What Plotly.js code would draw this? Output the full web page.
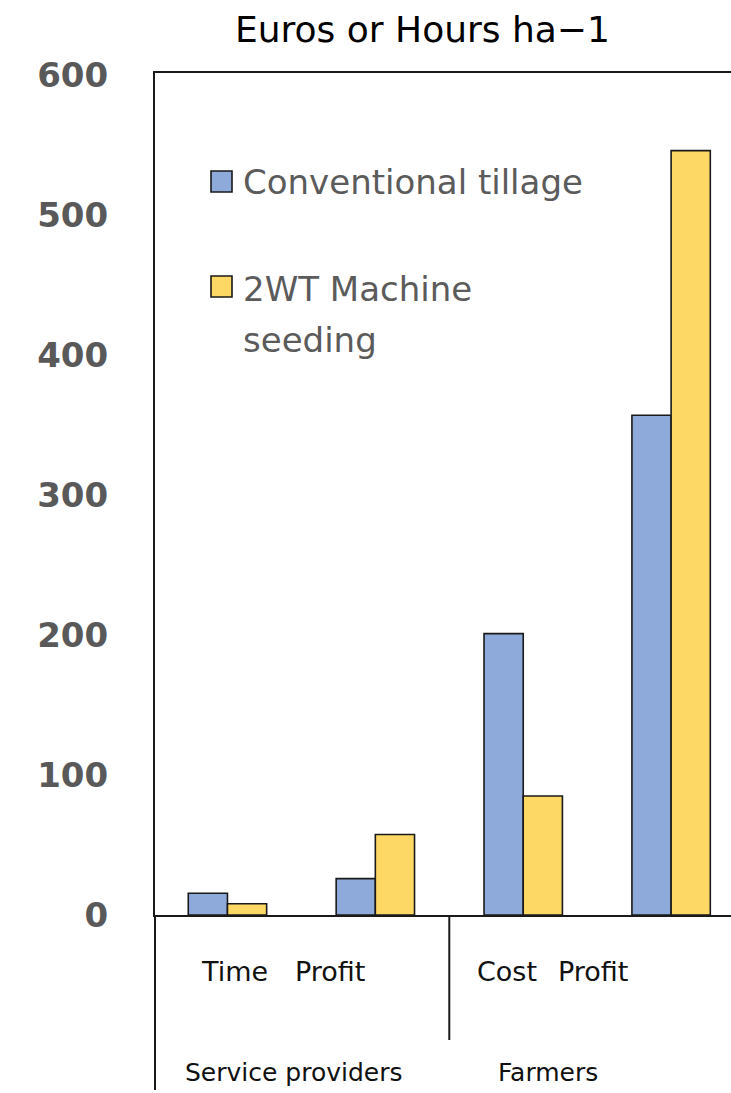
<!DOCTYPE html>
<html><head><meta charset="utf-8">
<script src="https://cdn.plot.ly/plotly-3.0.1.min.js"></script>
<style>html,body{margin:0;padding:0;background:#fff;}#chart{width:731px;height:1093px;}</style>
</head><body><div id="chart"></div>
<script>
var categoryKeys = ["sp_time", "sp_profit", "f_cost", "f_profit"];
var categoryLabels = ["Time", "Profit", "Cost", "Profit"];
var groupLabels = ["Service providers", "Farmers"];
var seriesNames = ["Conventional tillage", "2WT Machine<br>seeding"];
var conventional = [15.5, 26, 201, 357];
var machine = [8, 57.5, 85, 546];
var yTicks = [0, 100, 200, 300, 400, 500, 600];

var colConv = "#8eaadb", colMach = "#fdd865";
var FONT = "'DejaVu Sans', Verdana, sans-serif";
var xr = [-0.49, 3.405];
function px(v){ return (v - xr[0]) / (xr[1] - xr[0]); }

var traces = [
  {type:"bar", x:categoryKeys, y:conventional, name:seriesNames[0], marker:{color:colConv, line:{color:"#1a1a1a", width:1.6}}, showlegend:false, hoverinfo:"y"},
  {type:"bar", x:categoryKeys, y:machine, name:seriesNames[1], marker:{color:colMach, line:{color:"#1a1a1a", width:1.6}}, showlegend:false, hoverinfo:"y"}
];

var plotW = 731 - 155;
var plotH = 1093 - 73 - 178;
function py(pix){ return -pix / plotH; } // pixels below plot bottom -> paper
function pyTop(pix){ return 1 - (pix - 73) / plotH; } // absolute pixel y -> paper
function pxAbs(pix){ return (pix - 155) / plotW; }

var annotations = [
  {text:"Euros or Hours ha\u22121", xref:"paper", yref:"paper", x:pxAbs(422), y:1 + 43/plotH, showarrow:false, font:{family:FONT, size:36, color:"#000"}, xanchor:"center", yanchor:"middle"}
];
var labelOffsets = [0.05, -0.31, -0.11, -0.53];
categoryLabels.forEach(function(t,i){
  annotations.push({text:t, xref:"x", yref:"paper", x:i + labelOffsets[i], y:py(57), showarrow:false, font:{family:FONT, size:27, color:"#111"}, xanchor:"center", yanchor:"middle"});
});
annotations.push({text:groupLabels[0], xref:"x", yref:"paper", x:0.45, y:py(157), showarrow:false, font:{family:FONT, size:25, color:"#111"}, xanchor:"center", yanchor:"middle"});
annotations.push({text:groupLabels[1], xref:"x", yref:"paper", x:2.17, y:py(157), showarrow:false, font:{family:FONT, size:25, color:"#111"}, xanchor:"center", yanchor:"middle"});
// legend texts (second name split over two lines as in the reference)
var legendLines = [[seriesNames[0]], seriesNames[1].split("<br>")];
var legendY = [[182], [289, 340]];
legendLines.forEach(function(lines, s){
  lines.forEach(function(t, k){
    annotations.push({text:t, xref:"paper", yref:"paper", x:pxAbs(241), y:pyTop(legendY[s][k]), showarrow:false, font:{family:FONT, size:34, color:"#5b5b5b"}, xanchor:"left", yanchor:"middle", align:"left"});
  });
});

var shapes = [
  {type:"rect", xref:"paper", yref:"paper", x0:pxAbs(211), x1:pxAbs(232), y0:pyTop(171), y1:pyTop(192), fillcolor:colConv, line:{color:"#1a1a1a", width:1.6}},
  {type:"rect", xref:"paper", yref:"paper", x0:pxAbs(211), x1:pxAbs(232), y0:pyTop(276), y1:pyTop(297), fillcolor:colMach, line:{color:"#1a1a1a", width:1.6}},
  {type:"line", xref:"paper", yref:"paper", x0:px(1.5), x1:px(1.5), y0:0, y1:py(125), line:{color:"#1a1a1a", width:2}},
  {type:"line", xref:"paper", yref:"paper", x0:0, x1:0, y0:0, y1:py(175), line:{color:"#1a1a1a", width:2}}
];

var layout = {
  width:731, height:1093,
  margin:{l:155, r:0, t:73, b:178, pad:0},
  paper_bgcolor:"#fff", plot_bgcolor:"#fff",
  showlegend:false,
  barmode:"group", bargap:0.47, bargroupgap:0,
  xaxis:{type:"category", range:xr, showticklabels:false, ticks:"", showgrid:false, zeroline:false, showline:true, mirror:true, linecolor:"#1a1a1a", linewidth:2, fixedrange:true},
  yaxis:{range:[0, plotH/1.4], tickvals:yTicks, ticktext:yTicks.map(String), showgrid:false, zeroline:false, showline:true, linecolor:"#1a1a1a", linewidth:2, ticks:"", ticklabelstandoff:38, tickfont:{family:FONT, size:34, color:"#595959", weight:"bold"}, fixedrange:true},
  annotations:annotations,
  shapes:shapes
};
Plotly.newPlot("chart", traces, layout, {displayModeBar:false, staticPlot:true});
</script></body></html>
